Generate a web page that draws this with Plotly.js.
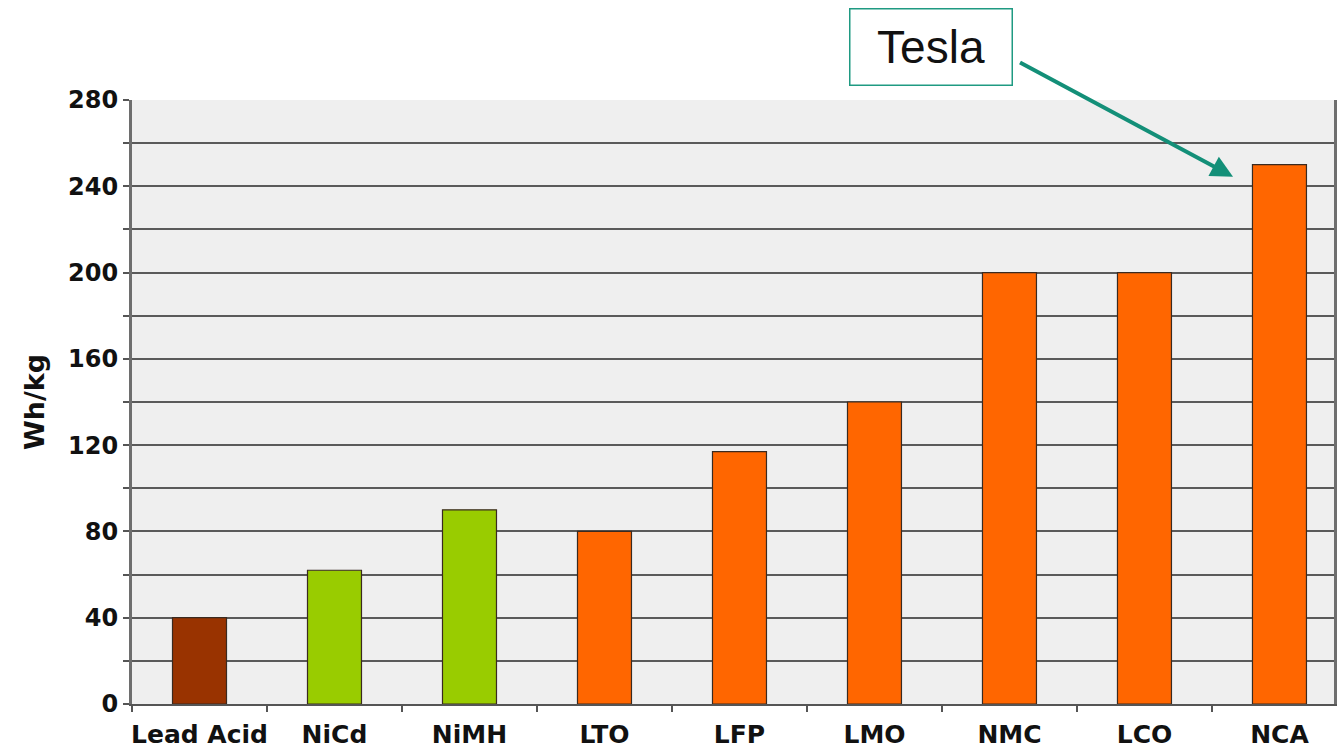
<!DOCTYPE html>
<html>
<head>
<meta charset="utf-8">
<script src="https://cdn.plot.ly/plotly-3.0.1.min.js"></script>
<style>html,body{margin:0;padding:0;background:#fff;}#chart{width:1337px;height:751px;}</style>
</head>
<body>
<div id="chart"></div>
<script>
const categories = ["Lead Acid", "NiCd", "NiMH", "LTO", "LFP", "LMO", "NMC", "LCO", "NCA"];
const energyDensity = [40, 62, 90, 80, 117, 140, 200, 200, 250];
const barColors = ["#993300", "#99cc00", "#99cc00", "#ff6600", "#ff6600", "#ff6600", "#ff6600", "#ff6600", "#ff6600"];
const yTickVals = [0, 20, 40, 60, 80, 100, 120, 140, 160, 180, 200, 220, 240, 260, 280];
const yTickText = ["0", "", "40", "", "80", "", "120", "", "160", "", "200", "", "240", "", "280"];
const yTitle = "Wh/kg";
const calloutText = "Tesla";

const labelFont = {family: "DejaVu Sans", size: 24, color: "#111", weight: "bold"};

const trace = {
  type: "bar",
  x: categories,
  y: energyDensity,
  width: 0.4,
  marker: {color: barColors, line: {color: "#3a2a20", width: 1.2}},
  hoverinfo: "x+y"
};

const layout = {
  width: 1337, height: 751,
  margin: {l: 132, r: 3, t: 100, b: 47, pad: 0},
  paper_bgcolor: "#ffffff",
  plot_bgcolor: "#efefef",
  showlegend: false,
  bargap: 0.6,
  xaxis: {
    type: "category",
    range: [-0.5, 8.404],
    tickson: "boundaries",
    tickangle: 0,
    ticks: "outside", ticklen: 6, tickwidth: 2, tickcolor: "#555",
    ticklabelstandoff: 7,
    showline: true, linecolor: "#555", linewidth: 2,
    showgrid: false,
    tickfont: {family: "DejaVu Sans", size: 25, color: "#111", weight: "bold"},
    fixedrange: true
  },
  yaxis: {
    range: [0, 280],
    tickvals: yTickVals, ticktext: yTickText,
    ticks: "outside", ticklen: 6, tickwidth: 2, tickcolor: "#555",
    showline: true, linecolor: "#6e6e6e", linewidth: 3, mirror: true,
    showgrid: true, gridcolor: "#5a5a5a", gridwidth: 2,
    zeroline: false,
    tickfont: labelFont,
    title: {text: yTitle, font: {family: "DejaVu Sans", size: 27, color: "#111", weight: "bold"}, standoff: 16},
    fixedrange: true
  },
  annotations: [
    {
      xref: "x", yref: "y",
      x: 7.656, y: 244.4,
      axref: "pixel", ayref: "pixel",
      ax: -216, ay: -116,
      text: " ",
      showarrow: true,
      arrowhead: 2, arrowsize: 1.1, arrowwidth: 4,
      arrowcolor: "#138f78",
      standoff: 0, startstandoff: 0
    },
    {
      xref: "paper", yref: "paper",
      x: 0.6647, y: 1.0885,
      xanchor: "center", yanchor: "middle",
      text: calloutText,
      showarrow: false,
      font: {family: "Liberation Sans", size: 46, color: "#111"},
      bgcolor: "#ffffff",
      bordercolor: "#1f9a82", borderwidth: 1.5, borderpad: 0,
      width: 161, height: 75
    }
  ]
};

Plotly.newPlot("chart", [trace], layout, {displayModeBar: false, staticPlot: true});
</script>
</body>
</html>
